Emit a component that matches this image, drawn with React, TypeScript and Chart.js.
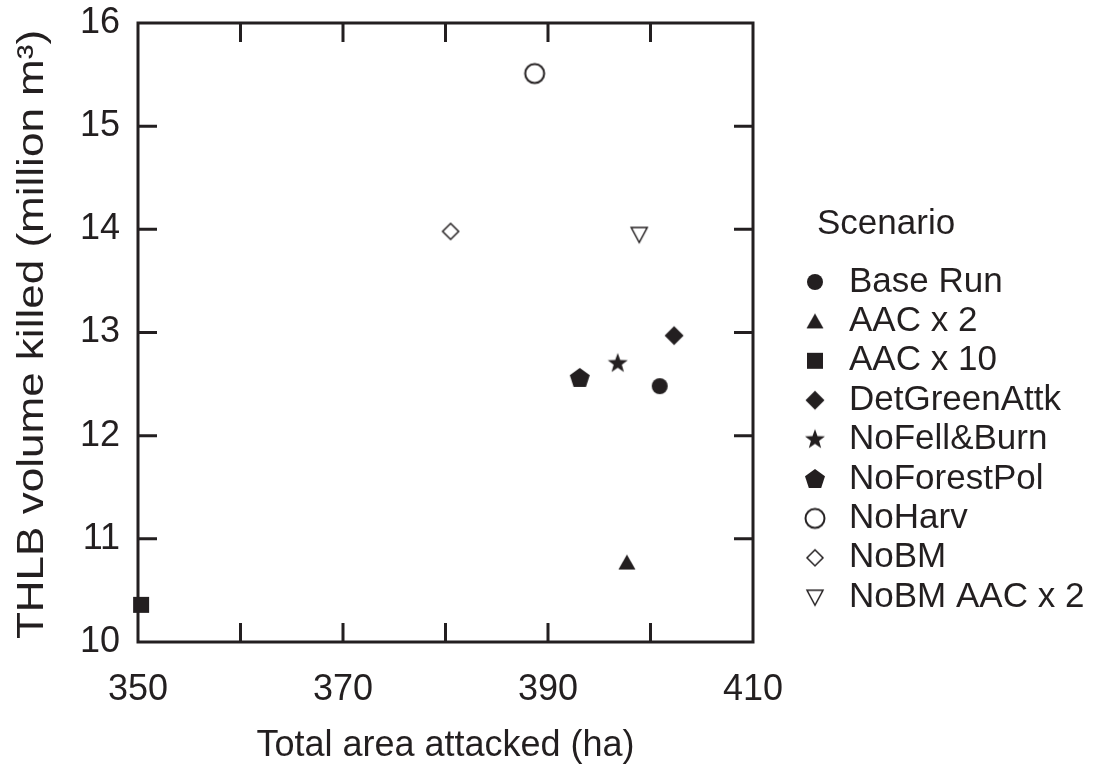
import React, { useEffect, useRef } from "react";
import { Chart, registerables } from "chart.js";

Chart.register(...registerables);

// ---- data ----
const scenarios = [
  "Base Run",
  "AAC x 2",
  "AAC x 10",
  "DetGreenAttk",
  "NoFell&Burn",
  "NoForestPol",
  "NoHarv",
  "NoBM",
  "NoBM AAC x 2",
];
const markerKinds = [
  "circleFilled",
  "triangleFilled",
  "squareFilled",
  "diamondFilled",
  "starFilled",
  "pentagonFilled",
  "circleOpen",
  "diamondOpen",
  "triangleDownOpen",
];
const areaAttacked = [400.9, 397.7, 350.3, 402.3, 396.8, 393.1, 388.7, 380.5, 398.9];
const volumeKilled = [12.48, 10.77, 10.36, 12.97, 12.7, 12.56, 15.51, 13.98, 13.95];

const xMin = 350;
const xMax = 410;
const xStep = 10;
const xLabelStep = 20;
const yMin = 10;
const yMax = 16;
const yStep = 1;

const xTitle = "Total area attacked (ha)";
const yTitle = "THLB volume killed (million m\u00B3)";
const legendTitle = "Scenario";

const INK = "#231f20";
const FONT_FAMILY = '"Liberation Sans", Arial, Helvetica, sans-serif';

function makeMarker(kind: string): HTMLCanvasElement {
  const size = 26;
  const c = document.createElement("canvas");
  c.width = size;
  c.height = size;
  const ctx = c.getContext("2d")!;
  const cx = size / 2;
  const cy = size / 2;
  ctx.fillStyle = INK;
  ctx.strokeStyle = INK;
  ctx.lineJoin = "miter";
  const poly = (pts: number[][]) => {
    ctx.beginPath();
    pts.forEach((p, i) => (i === 0 ? ctx.moveTo(cx + p[0], cy + p[1]) : ctx.lineTo(cx + p[0], cy + p[1])));
    ctx.closePath();
  };
  switch (kind) {
    case "circleFilled":
      ctx.beginPath();
      ctx.arc(cx, cy, 8, 0, Math.PI * 2);
      ctx.fill();
      break;
    case "triangleFilled":
      poly([[0, -8], [8.5, 7], [-8.5, 7]]);
      ctx.fill();
      break;
    case "squareFilled":
      ctx.fillRect(cx - 8, cy - 8, 16, 16);
      break;
    case "diamondFilled":
      poly([[0, -9.5], [9.5, 0], [0, 9.5], [-9.5, 0]]);
      ctx.fill();
      break;
    case "starFilled": {
      const pts: number[][] = [];
      for (let i = 0; i < 10; i++) {
        const r = i % 2 === 0 ? 10.5 : 4.3;
        const a = -Math.PI / 2 + (i * Math.PI) / 5;
        pts.push([r * Math.cos(a), r * Math.sin(a)]);
      }
      poly(pts);
      ctx.fill();
      break;
    }
    case "pentagonFilled": {
      const pts: number[][] = [];
      for (let i = 0; i < 5; i++) {
        const a = -Math.PI / 2 + (i * 2 * Math.PI) / 5;
        pts.push([10.5 * Math.cos(a), 10.5 * Math.sin(a) + 0.5]);
      }
      poly(pts);
      ctx.fill();
      break;
    }
    case "circleOpen":
      ctx.lineWidth = 2;
      ctx.beginPath();
      ctx.arc(cx, cy, 9.5, 0, Math.PI * 2);
      ctx.stroke();
      break;
    case "diamondOpen":
      ctx.lineWidth = 1.5;
      poly([[0, -8], [8, 0], [0, 8], [-8, 0]]);
      ctx.stroke();
      break;
    case "triangleDownOpen":
      ctx.lineWidth = 1.5;
      poly([[-8, -7], [8, -7], [0, 8]]);
      ctx.stroke();
      break;
  }
  return c;
}

const boxAndTicksPlugin = {
  id: "boxAndTicks",
  beforeDatasetsDraw(chart: any) {
    const { ctx, chartArea } = chart;
    const xs = chart.scales.x;
    const ys = chart.scales.y;
    const tl = 19;
    ctx.save();
    ctx.strokeStyle = INK;
    ctx.lineWidth = 3;
    ctx.lineCap = "butt";
    ctx.strokeRect(chartArea.left, chartArea.top, chartArea.right - chartArea.left, chartArea.bottom - chartArea.top);
    ctx.beginPath();
    xs.ticks.forEach((t: any) => {
      const px = xs.getPixelForValue(t.value);
      if (px <= chartArea.left + 1 || px >= chartArea.right - 1) return;
      ctx.moveTo(px, chartArea.bottom);
      ctx.lineTo(px, chartArea.bottom - tl);
      ctx.moveTo(px, chartArea.top);
      ctx.lineTo(px, chartArea.top + tl);
    });
    ys.ticks.forEach((t: any) => {
      const py = ys.getPixelForValue(t.value);
      if (py <= chartArea.top + 1 || py >= chartArea.bottom - 1) return;
      ctx.moveTo(chartArea.left, py);
      ctx.lineTo(chartArea.left + tl, py);
      ctx.moveTo(chartArea.right, py);
      ctx.lineTo(chartArea.right - tl, py);
    });
    ctx.stroke();
    ctx.restore();
  },
};

// y-axis title: drawn rotated and slightly stretched along its length
const yTitlePlugin = {
  id: "yTitle",
  afterDraw(chart: any) {
    const { ctx, chartArea } = chart;
    ctx.save();
    ctx.fillStyle = INK;
    ctx.font = `37px ${FONT_FAMILY}`;
    ctx.textAlign = "center";
    ctx.textBaseline = "middle";
    ctx.translate(33, (chartArea.top + chartArea.bottom) / 2 + 2);
    ctx.rotate(-Math.PI / 2);
    ctx.scale(1.19, 1);
    ctx.fillText(yTitle, 0, 0);
    ctx.restore();
  },
};

const legendPlugin = {
  id: "scenarioLegend",
  afterDraw(chart: any) {
    const { ctx, chartArea } = chart;
    const titleX = chartArea.right + 64;
    const titleY = chartArea.top + 201;
    const markerX = chartArea.right + 62;
    const textX = chartArea.right + 96;
    const firstY = chartArea.top + 259;
    const step = 39.4;
    ctx.save();
    ctx.fillStyle = INK;
    ctx.font = `35px ${FONT_FAMILY}`;
    ctx.textBaseline = "middle";
    ctx.textAlign = "left";
    ctx.fillText(legendTitle, titleX, titleY);
    chart.data.datasets.forEach((ds: any, i: number) => {
      const y = firstY + i * step;
      const img = ds.pointStyle as HTMLCanvasElement;
      ctx.drawImage(img, markerX - img.width / 2, y - img.height / 2);
      ctx.fillText(ds.label, textX, y);
    });
    ctx.restore();
  },
};

export default function App() {
  const ref = useRef<HTMLCanvasElement>(null);
  useEffect(() => {
    document.body.style.margin = "0";
    const datasets = scenarios.map((name, i) => ({
      label: name,
      data: [{ x: areaAttacked[i], y: volumeKilled[i] }],
      pointStyle: makeMarker(markerKinds[i]),
      pointRadius: 10,
      clip: false as any,
    }));
    const chart = new Chart(ref.current!, {
      type: "scatter",
      data: { datasets },
      options: {
        animation: false,
        responsive: false,
        events: [],
        layout: { padding: { left: 0, top: 23, right: 346, bottom: 0 } },
        plugins: {
          legend: { display: false },
          tooltip: { enabled: false },
        },
        scales: {
          x: {
            type: "linear",
            min: xMin,
            max: xMax,
            grid: { display: false, drawTicks: false },
            border: { display: false },
            afterFit: (s: any) => {
              s.height = 130;
              s.paddingLeft = 0;
              s.paddingRight = 0;
            },
            ticks: {
              stepSize: xStep,
              padding: 26,
              color: INK,
              font: { size: 36, family: FONT_FAMILY },
              maxRotation: 0,
              autoSkip: false,
              callback: (v: any) => ((Number(v) - xMin) % xLabelStep === 0 ? String(v) : ""),
            },
            title: {
              display: true,
              text: xTitle,
              color: INK,
              font: { size: 36, family: FONT_FAMILY },
              padding: { top: 0, bottom: 4 },
            },
          },
          y: {
            type: "linear",
            min: yMin,
            max: yMax,
            grid: { display: false, drawTicks: false },
            border: { display: false },
            afterFit: (s: any) => {
              s.width = 138;
              s.paddingTop = 0;
              s.paddingBottom = 0;
            },
            ticks: {
              stepSize: yStep,
              padding: 18,
              color: INK,
              font: { size: 36, family: FONT_FAMILY },
              callback: (v: any) => String(v),
            },
            title: { display: false },
          },
        },
      },
      plugins: [boxAndTicksPlugin, yTitlePlugin, legendPlugin],
    });
    return () => chart.destroy();
  }, []);
  return (
    <div style={{ width: 1099, height: 772 }}>
      <canvas ref={ref} width={1099} height={772} style={{ display: "block" }} />
    </div>
  );
}
